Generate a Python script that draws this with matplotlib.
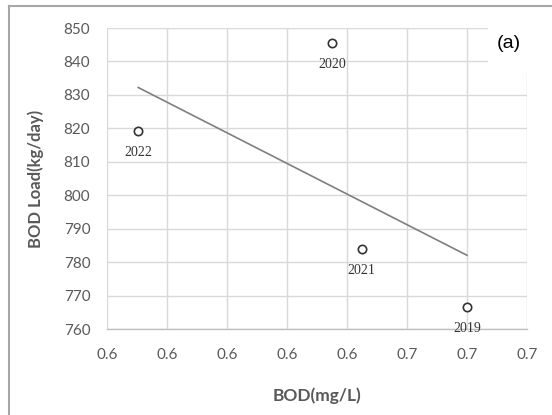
import numpy as np
import matplotlib
matplotlib.use('Agg')
from matplotlib import pyplot as plt
from matplotlib.lines import Line2D
from matplotlib.patches import Rectangle
from matplotlib.ticker import FormatStrFormatter

# data
years = ['2022', '2020', '2021', '2019']
bod = [0.5704, 0.635, 0.6449, 0.680]
bod_load = [819.2, 845.5, 783.8, 766.5]

x_ticks = [0.56, 0.58, 0.60, 0.62, 0.64, 0.66, 0.68, 0.70]
y_ticks = [760, 770, 780, 790, 800, 810, 820, 830, 840, 850]

grey_text = '#595959'
grid_col = '#d9d9d9'

plt.rcParams['font.family'] = ['Lato', 'DejaVu Sans']

fig = plt.figure(figsize=(5.52, 4.15), dpi=100)
ax = fig.add_axes([107 / 552, 1 - 329 / 415, 420 / 552, 301 / 415])

# scatter points
ax.plot(bod, bod_load, 'o', markersize=6, markerfacecolor='white',
        markeredgecolor='#333333', markeredgewidth=1.2, zorder=4)

# linear trendline over the data range
k, d = np.polyfit(bod, bod_load, 1)
xx = np.array([min(bod), max(bod)])
ax.plot(xx, k * xx + d, color='#7f7f7f', linewidth=1.2, zorder=3)

# year labels below each point
for yr, xv, yv in zip(years, bod, bod_load):
    ax.annotate(yr, (xv, yv), xytext=(0, -15.5), textcoords='offset points',
                ha='center', va='center', fontsize=10, color='#333333',
                family='Liberation Serif', zorder=5)

ax.set_xlim(x_ticks[0], x_ticks[-1])
ax.set_ylim(y_ticks[0], y_ticks[-1])
ax.set_xticks(x_ticks)
ax.set_yticks(y_ticks)
ax.xaxis.set_major_formatter(FormatStrFormatter('%.1f'))

ax.grid(True, color=grid_col, linewidth=1.0, zorder=0)
ax.set_axisbelow(True)
for s in ['top', 'right', 'left']:
    ax.spines[s].set_visible(False)
ax.spines['bottom'].set_color('#bfbfbf')
ax.spines['bottom'].set_linewidth(1.0)

ax.tick_params(length=0, labelsize=11, colors=grey_text)
ax.tick_params(axis='x', pad=14)
ax.tick_params(axis='y', pad=12)

ax.set_xlabel('BOD(mg/L)', fontsize=12.5, fontweight='bold', color=grey_text,
              labelpad=18)
ax.set_ylabel('BOD Load(kg/day)', fontsize=12, fontweight='bold',
              color=grey_text, labelpad=14)

# panel tag, its white box hides the grid behind it
fig.add_artist(Rectangle((488 / 552, 1 - 73 / 415), 52 / 552, 55 / 415,
                         transform=fig.transFigure, facecolor='white',
                         edgecolor='none', zorder=5))
fig.text(509 / 552, 1 - 43 / 415, '(a)', fontsize=14, color='black',
         ha='center', va='center', family='Liberation Sans', zorder=6)

# chart border (only top and left are inside the picture)
fig.add_artist(Line2D([9 / 552, 9 / 552], [0, 1 - 6 / 415],
                      color='#a6a6a6', linewidth=1.5))
fig.add_artist(Line2D([9 / 552, 1], [1 - 6 / 415, 1 - 6 / 415],
                      color='#a6a6a6', linewidth=1.5))

fig.savefig('out.png', dpi=100)
